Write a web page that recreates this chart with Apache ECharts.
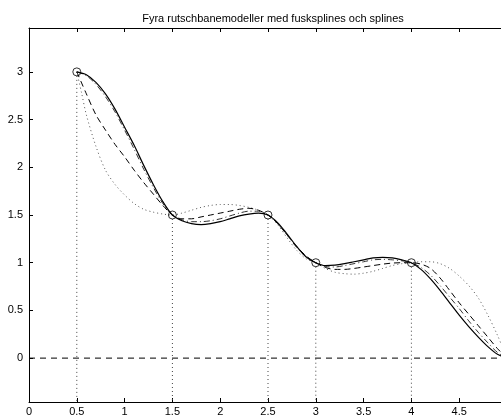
<!DOCTYPE html>
<html>
<head>
<meta charset="utf-8">
<script src="https://cdn.jsdelivr.net/npm/echarts@6/dist/echarts.min.js"></script>
<style>html,body{margin:0;padding:0;background:#fff;overflow:hidden;width:501px;height:417px}#c{width:520px;height:417px}</style>
</head>
<body>
<div id="c"></div>
<script>
const title = 'Fyra rutschbanemodeller med fusksplines och splines';
const yTicks = [0, 0.5, 1, 1.5, 2, 2.5, 3];
// knot points
const knotX = [0.5, 1.5, 2.5, 3, 4, 5];
const knotY = [3, 1.5, 1.5, 1, 1, 0];
// shared sampling positions for the curves
const curveX = [0.5,0.6,0.7,0.8,0.9,1.0,1.1,1.2,1.3,1.4,1.5,1.6,1.7,1.8,1.9,2.0,2.1,2.2,2.3,2.4,2.5,2.6,2.7,2.8,2.9,3.0,3.1,3.2,3.3,3.4,3.5,3.6,3.7,3.8,3.9,4.0,4.1,4.2,4.3,4.4,4.5,4.6,4.7,4.8,4.9,5.0];
// solid curve
const solidY = [3,2.97,2.89,2.77,2.61,2.42,2.23,2.02,1.82,1.64,1.5,1.44,1.41,1.40,1.41,1.43,1.46,1.49,1.51,1.52,1.5,1.42,1.30,1.17,1.06,1.0,0.97,0.975,0.99,1.01,1.03,1.05,1.055,1.05,1.03,1.0,0.93,0.83,0.71,0.58,0.45,0.33,0.22,0.12,0.04,0];
// dash-dot curve
const dashDotY = [3,2.96,2.87,2.74,2.58,2.39,2.19,1.98,1.79,1.62,1.5,1.45,1.43,1.43,1.44,1.46,1.49,1.52,1.54,1.54,1.5,1.41,1.29,1.16,1.06,1.0,0.96,0.955,0.97,0.99,1.01,1.03,1.035,1.03,1.02,1.0,0.95,0.87,0.76,0.64,0.52,0.39,0.27,0.16,0.06,0];
// dashed curve
const dashY = [3,2.77,2.55,2.39,2.24,2.11,1.97,1.84,1.72,1.60,1.5,1.46,1.46,1.48,1.50,1.52,1.54,1.56,1.57,1.55,1.5,1.41,1.29,1.17,1.07,1.0,0.95,0.93,0.93,0.94,0.955,0.97,0.985,0.996,1.0,1.0,0.985,0.94,0.84,0.71,0.58,0.46,0.34,0.22,0.1,0];
// dotted curve
const dotX = [0.5,0.55,0.6,0.7,0.8,0.9,1.0,1.1,1.2,1.3,1.4,1.5,1.6,1.7,1.8,1.9,2.0,2.1,2.2,2.3,2.4,2.5,2.6,2.7,2.8,2.9,3.0,3.1,3.2,3.3,3.4,3.5,3.6,3.7,3.8,3.9,4.0,4.1,4.2,4.3,4.4,4.5,4.6,4.7,4.8,4.9,5.0];
const dotY = [3,2.78,2.55,2.22,1.97,1.82,1.71,1.62,1.56,1.53,1.51,1.5,1.52,1.55,1.58,1.60,1.61,1.61,1.60,1.58,1.55,1.5,1.40,1.26,1.13,1.04,1.0,0.94,0.90,0.885,0.88,0.89,0.91,0.94,0.97,0.99,1.0,1.01,1.01,0.99,0.94,0.86,0.76,0.63,0.45,0.24,0];
const yMin = -0.46, yMax = 3.46;

const pairs = (xs, ys) => xs.map((x, i) => [x, ys[i]]);
const font = 'Liberation Sans, Arial, sans-serif';

const stems = knotX.map((x, i) => ({
  type: 'line', data: [[x, knotY[i]], [x, yMin]], symbol: 'none', silent: true,
  lineStyle: { color: '#444', width: 1, type: [1, 3] }
}));

const chart = echarts.init(document.getElementById('c'), null, { renderer: 'canvas' });
chart.setOption({
  animation: false,
  backgroundColor: '#fff',
  title: {
    text: title, left: 268, textAlign: 'center', top: 8,
    textStyle: { fontFamily: font, fontSize: 11, fontWeight: 'normal', color: '#000' }
  },
  grid: { left: 29, top: 28, right: 13, bottom: 14, containLabel: false },
  xAxis: [{
    type: 'value', min: 0, max: 5, interval: 0.5, position: 'bottom',
    axisLine: { onZero: false, lineStyle: { color: '#000', width: 1 } },
    axisTick: { inside: true, length: 4, lineStyle: { color: '#000' } },
    axisLabel: { fontFamily: font, fontSize: 11, color: '#000', margin: 4 },
    splitLine: { show: false }
  }, {
    type: 'value', min: 0, max: 5, interval: 0.5, position: 'top',
    axisLine: { onZero: false, lineStyle: { color: '#000', width: 1 } },
    axisTick: { inside: true, length: 4, lineStyle: { color: '#000' } },
    axisLabel: { show: false }, splitLine: { show: false }
  }],
  yAxis: [{
    type: 'value', min: yMin, max: yMax,
    axisLine: { show: true, onZero: false, lineStyle: { color: '#000', width: 1 } },
    axisTick: { show: true, inside: true, length: 4, customValues: yTicks, lineStyle: { color: '#000' } },
    axisLabel: { fontFamily: font, fontSize: 11, color: '#000', margin: 6, customValues: yTicks },
    splitLine: { show: false }
  }],
  series: [
    {
      type: 'line', data: [[0, 0], [5, 0]], symbol: 'none', silent: true,
      lineStyle: { color: '#000', width: 1, type: [6, 5] }
    },
    ...stems,
    {
      type: 'line', data: pairs(dotX, dotY), symbol: 'none', smooth: 0.3,
      lineStyle: { color: '#555', width: 1, type: [1, 3] }
    },
    {
      type: 'line', data: pairs(curveX, dashY), symbol: 'none', smooth: 0.3,
      lineStyle: { color: '#000', width: 1, type: [6, 4] }
    },
    {
      type: 'line', data: pairs(curveX, dashDotY), symbol: 'none', smooth: 0.3,
      lineStyle: { color: '#333', width: 1, type: [6, 3, 1, 3] }
    },
    {
      type: 'line', data: pairs(curveX, solidY), symbol: 'none', smooth: 0.3,
      lineStyle: { color: '#000', width: 1.2, type: 'solid' }
    },
    {
      type: 'scatter', data: pairs(knotX, knotY), symbol: 'circle', symbolSize: 8,
      itemStyle: { color: 'rgba(0,0,0,0)', borderColor: '#000', borderWidth: 1 }
    }
  ]
});
</script>
</body>
</html>
